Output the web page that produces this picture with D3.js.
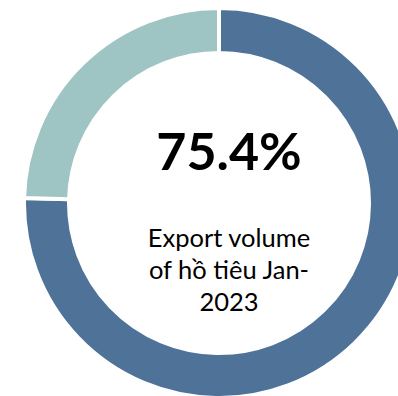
<!DOCTYPE html>
<html>
<head>
<meta charset="utf-8">
<script src="https://cdn.jsdelivr.net/npm/d3@7"></script>
<style>
  html, body { margin: 0; padding: 0; background: #fff; overflow: hidden; }
  svg { display: block; font-family: Lato, "Open Sans", sans-serif; }
</style>
</head>
<body>
<div id="chart"></div>
<script>
// share of export volume, Jan-2023
var categories = ["Hồ tiêu", "Other"];
var shares = [75.4, 24.6];
var colors = ["#4e7298", "#9ec4c3"];
var headline = "75.4%";
var captionLines = ["Export volume", "of hồ tiêu Jan-", "2023"];

var width = 398,
    height = 396,
    cx = 219,
    cy = 203,
    outerR = 195,
    innerR = 150;

var svg = d3.select("#chart")
    .append("svg")
    .attr("width", width)
    .attr("height", height);

var pie = d3.pie()
    .sort(null)
    .value(function (d) { return d; });

var arc = d3.arc()
    .innerRadius(innerR)
    .outerRadius(outerR);

var g = svg.append("g")
    .attr("transform", "translate(" + cx + "," + cy + ")");

g.selectAll("path")
    .data(pie(shares)).enter()
    .append("path")
    .attr("d", arc)
    .attr("fill", function (d, i) { return colors[i]; })
    .attr("stroke", "#fff")
    .attr("stroke-width", 4);

// centre labels
var textX = 229;
svg.append("text")
    .attr("x", textX)
    .attr("y", 170)
    .attr("text-anchor", "middle")
    .attr("font-size", 52)
    .attr("font-weight", "bold")
    .attr("fill", "#000")
    .text(headline);

svg.append("g")
    .selectAll("text")
    .data(captionLines).enter()
    .append("text")
    .attr("x", textX)
    .attr("y", function (d, i) { return 247 + i * 32; })
    .attr("text-anchor", "middle")
    .attr("font-size", 25.5)
    .attr("fill", "#000")
    .text(function (d) { return d; });
</script>
</body>
</html>
